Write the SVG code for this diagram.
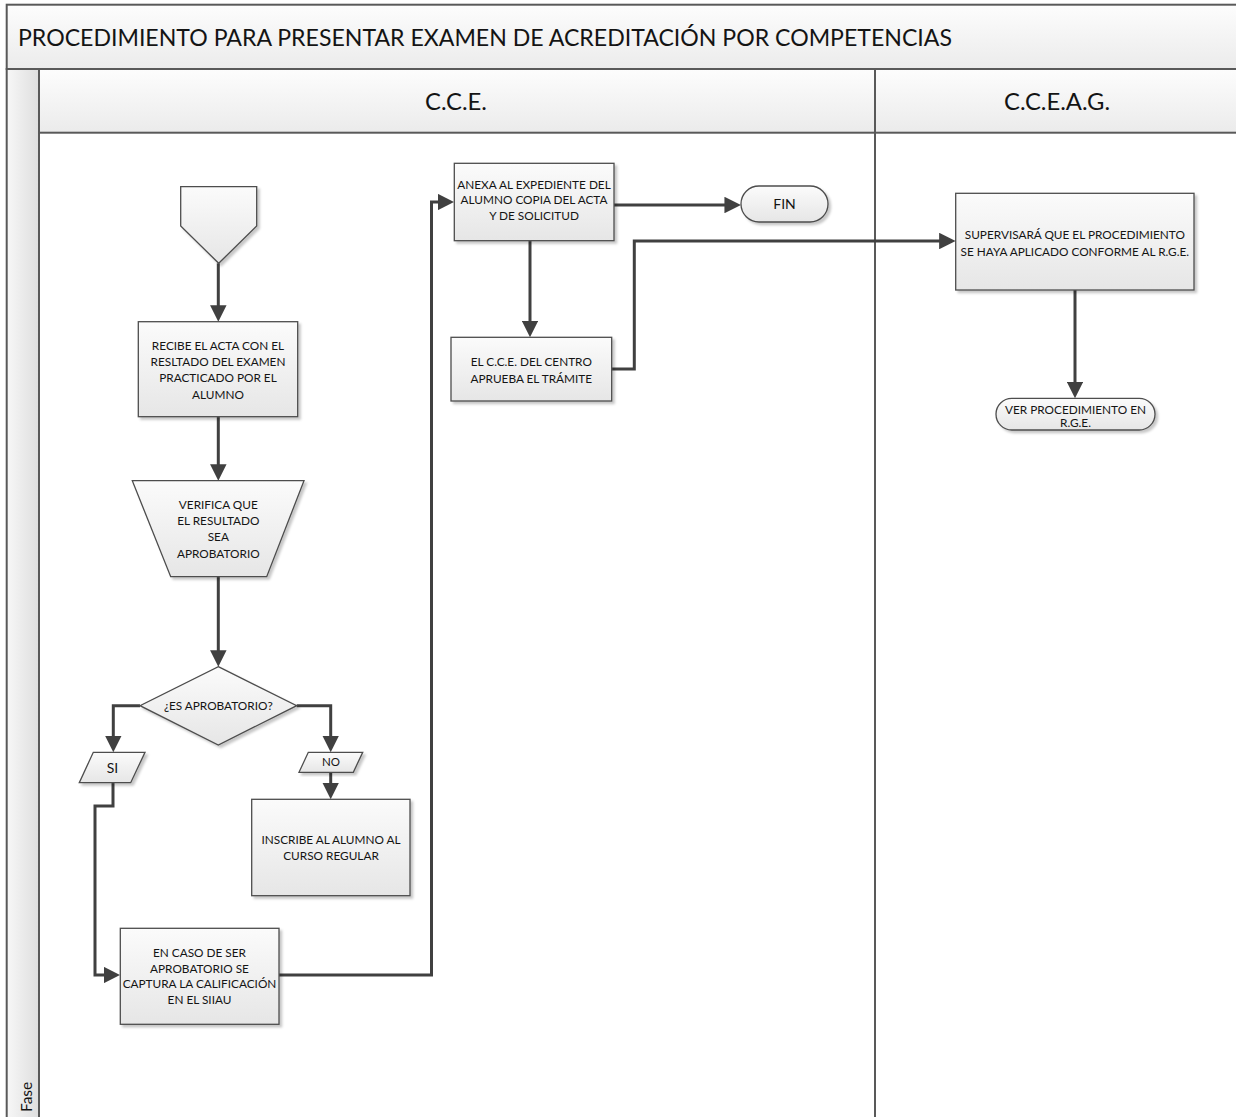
<svg xmlns="http://www.w3.org/2000/svg" width="1236" height="1117" viewBox="0 0 1236 1117">
  <defs>
    <linearGradient id="gHdr" x1="0" y1="0" x2="0" y2="1">
      <stop offset="0" stop-color="#fdfdfd"/>
      <stop offset="1" stop-color="#ebebeb"/>
    </linearGradient>
    <linearGradient id="gFase" x1="0" y1="0" x2="1" y2="0">
      <stop offset="0" stop-color="#f7f7f7"/>
      <stop offset="1" stop-color="#dedede"/>
    </linearGradient>
    <linearGradient id="gBox" x1="0" y1="0" x2="0" y2="1">
      <stop offset="0" stop-color="#fbfbfb"/>
      <stop offset="1" stop-color="#e6e6e6"/>
    </linearGradient>
    <filter id="shadow" x="-10%" y="-10%" width="130%" height="130%">
      <feDropShadow dx="2.5" dy="2.5" stdDeviation="1.2" flood-color="#000" flood-opacity="0.22"/>
    </filter>
    <marker id="arrow" viewBox="0 0 10 10" refX="6.4" refY="5" markerWidth="5.5" markerHeight="5.5" orient="auto">
      <path d="M0,0 L10,5 L0,10 z" fill="#404040"/>
    </marker>
    <style>
      .frame { stroke: #595959; stroke-width: 2; }
      .node { fill: url(#gBox); stroke: #4d4d4d; stroke-width: 1.3; filter: url(#shadow); }
      .conn { fill: none; stroke: #404040; stroke-width: 3; marker-end: url(#arrow); }
      text { font-family: Lato, "Liberation Sans", sans-serif; fill: #141414; }
      .t { font-size: 11.8px; text-anchor: middle; }
      .hdr { font-size: 23.8px; text-anchor: middle; }
    </style>
  </defs>

  <rect width="1236" height="1117" fill="#ffffff"/>

  <!-- pool frame, title bar, lane headers -->
  <g id="pool">
    <rect x="6.7" y="4.7" width="1240" height="64.3" fill="url(#gHdr)" class="frame"/>
    <rect x="6.7" y="69" width="32.3" height="1060" fill="url(#gFase)" class="frame"/>
    <rect x="39" y="69" width="836" height="63.7" fill="url(#gHdr)" class="frame"/>
    <rect x="875" y="69" width="370" height="63.7" fill="url(#gHdr)" class="frame"/>
    <line x1="875" y1="132.7" x2="875" y2="1130" class="frame"/>
    <text x="18" y="46" font-size="23.1">PROCEDIMIENTO PARA PRESENTAR EXAMEN DE ACREDITACIÓN POR COMPETENCIAS</text>
    <text x="456" y="110" class="hdr">C.C.E.</text>
    <text x="1057" y="110" class="hdr">C.C.E.A.G.</text>
    <text transform="translate(31.5,1112) rotate(-90)" font-size="15.5">Fase</text>
  </g>

  <!-- connectors -->
  <g id="connectors">
    <path class="conn" d="M218.3,263.3 V315.7"/>
    <path class="conn" d="M218.3,416.7 V474.7"/>
    <path class="conn" d="M218.3,576.7 V660.7"/>
    <path class="conn" d="M140,705.7 H113.3 V746.3"/>
    <path class="conn" d="M296.7,705.7 H330.7 V746.3"/>
    <path class="conn" d="M330.7,772.3 V793.3"/>
    <path class="conn" d="M113,782.7 V806 H95 V975 H114.3"/>
    <path class="conn" d="M279,975 H431.5 V202 H448.3"/>
    <path class="conn" d="M614,205 H735"/>
    <path class="conn" d="M530,240.7 V331.3"/>
    <path class="conn" d="M611.7,369 H634.3 V241 H949.7"/>
    <path class="conn" d="M1075,290 V392.3"/>
  </g>

  <!-- nodes -->
  <g id="start">
    <polygon class="node" points="180.7,186.7 256.7,186.7 256.7,226 218.7,263.3 180.7,226"/>
  </g>

  <g id="recibe">
    <rect class="node" x="138.3" y="321.7" width="159.4" height="95"/>
    <text class="t" x="218" y="349.5">RECIBE EL ACTA CON EL</text>
    <text class="t" x="218" y="365.9">RESLTADO DEL EXAMEN</text>
    <text class="t" x="218" y="382.3">PRACTICADO POR EL</text>
    <text class="t" x="218" y="398.7">ALUMNO</text>
  </g>

  <g id="verifica">
    <polygon class="node" points="132.3,480.7 304,480.7 266.7,576.7 170.7,576.7"/>
    <text class="t" x="218.3" y="509.2">VERIFICA QUE</text>
    <text class="t" x="218.3" y="525.3">EL RESULTADO</text>
    <text class="t" x="218.3" y="541.4">SEA</text>
    <text class="t" x="218.3" y="557.5">APROBATORIO</text>
  </g>

  <g id="decision">
    <polygon class="node" points="218.3,666.7 296.7,705.7 218.3,745 140,705.7"/>
    <text class="t" x="218.3" y="709.7">¿ES APROBATORIO?</text>
  </g>

  <g id="si">
    <polygon class="node" points="93.3,752.3 145,752.3 130.7,782.7 79.3,782.7"/>
    <text x="112.5" y="773" font-size="14" text-anchor="middle">SI</text>
  </g>

  <g id="no">
    <polygon class="node" points="308.3,752.3 362.7,752.3 353.3,772.3 299,772.3"/>
    <text x="331" y="766.2" font-size="11.5" text-anchor="middle">NO</text>
  </g>

  <g id="inscribe">
    <rect class="node" x="251.7" y="799.3" width="158.3" height="96.4"/>
    <text class="t" x="331" y="844.2">INSCRIBE AL ALUMNO AL</text>
    <text class="t" x="331" y="860.2">CURSO REGULAR</text>
  </g>

  <g id="captura">
    <rect class="node" x="120.3" y="928.3" width="158.7" height="96"/>
    <text class="t" x="199.5" y="956.9">EN CASO DE SER</text>
    <text class="t" x="199.5" y="972.5">APROBATORIO SE</text>
    <text class="t" x="199.5" y="988.1">CAPTURA LA CALIFICACIÓN</text>
    <text class="t" x="199.5" y="1003.7">EN EL SIIAU</text>
  </g>

  <g id="anexa">
    <rect class="node" x="454.3" y="163.3" width="159.7" height="77.4"/>
    <text class="t" x="534" y="189.2">ANEXA AL EXPEDIENTE DEL</text>
    <text class="t" x="534" y="204.4">ALUMNO COPIA DEL ACTA</text>
    <text class="t" x="534" y="219.6">Y DE SOLICITUD</text>
  </g>

  <g id="fin">
    <rect class="node" x="741" y="186" width="87" height="36" rx="18" ry="18"/>
    <text x="784.5" y="209" font-size="14" text-anchor="middle">FIN</text>
  </g>

  <g id="aprueba">
    <rect class="node" x="451" y="337.3" width="160.7" height="63.7"/>
    <text class="t" x="531.3" y="365.9">EL C.C.E. DEL CENTRO</text>
    <text class="t" x="531.3" y="382.5">APRUEBA EL TRÁMITE</text>
  </g>

  <g id="supervisa">
    <rect class="node" x="955.7" y="193.3" width="238.3" height="96.7"/>
    <text class="t" x="1074.8" y="239.2">SUPERVISARÁ QUE EL PROCEDIMIENTO</text>
    <text class="t" x="1074.8" y="255.7">SE HAYA APLICADO CONFORME AL R.G.E.</text>
  </g>

  <g id="ver">
    <rect class="node" x="996" y="398.3" width="159" height="31.7" rx="15.8" ry="15.8"/>
    <text class="t" x="1075.5" y="413.5">VER PROCEDIMIENTO EN</text>
    <text class="t" x="1075.5" y="426.5">R.G.E.</text>
  </g>
</svg>
